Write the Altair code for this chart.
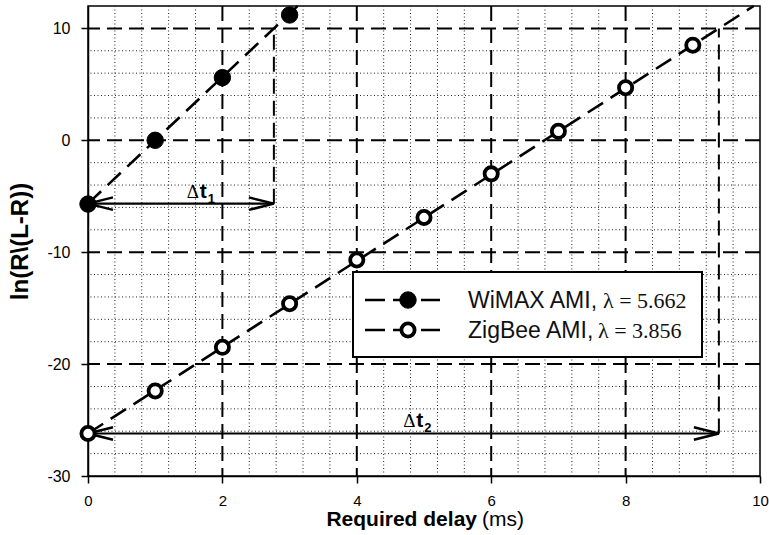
import altair as alt
import pandas as pd

# ln(R/(L-R)) against required delay for the two AMI networks
wimax_delay = [0, 1, 2, 3]
wimax_ln = [-5.7, 0.0, 5.6, 11.2]
zigbee_delay = [0, 1, 2, 3, 4, 5, 6, 7, 8, 9]
zigbee_ln = [-26.2, -22.4, -18.5, -14.6, -10.7, -6.9, -3.0, 0.8, 4.7, 8.5]

# fitted straight lines: slope (lambda) and value at zero delay
series_names = ["WiMAX AMI", "ZigBee AMI"]
slopes = [5.662, 3.856]
intercepts = [-5.662, -26.2]
target_ln = 10          # level reached at the end of each delta-t arrow
delta_subs = ["1", "2"]
delta_label_x = [1.47, 4.69]

x_ticks = [0, 2, 4, 6, 8, 10]
y_ticks = [-30, -20, -10, 0, 10]
x_domain = [0, 10]
y_domain = [-30, 12]
x_major = [2, 4, 6, 8]
y_major = [-20, -10, 0, 10]
x_minor = [round(0.4 * i, 1) for i in range(1, 25) if i % 5 != 0]
y_minor = [v for v in range(-28, 12, 2) if v % 10 != 0]

SANS = "Liberation Sans"
SERIF = "'Liberation Serif', 'DejaVu Serif', serif"
W, H = 672, 470

xs = alt.Scale(domain=x_domain, nice=False, zero=False)
ys = alt.Scale(domain=y_domain, nice=False, zero=False)
x_axis = alt.Axis(values=x_ticks, grid=False, tickSize=7, tickWidth=1.5, tickColor="black",
                  domainColor="black", domainWidth=1.5, labelFont=SANS, labelFontSize=15,
                  labelColor="black", labelPadding=10, labelFlush=False,
                  labelExpr="'' + datum.value")
y_axis = alt.Axis(values=y_ticks, grid=False, tickSize=7, tickWidth=1.5, tickColor="black",
                  domainColor="black", domainWidth=1.5, labelFont=SANS, labelFontSize=16,
                  labelColor="black", labelPadding=11, labelExpr="'' + datum.value",
                  titleFont=SANS, titleFontSize=24, titleFontWeight="bold", titleColor="black",
                  titleX=-61, titleY=H / 2, titleAlign="center", titleBaseline="alphabetic",
                  titleAngle=270)
Y_TITLE = "ln(R\\(L-R))"


def X(field):
    return alt.X(field, type="quantitative", scale=xs, axis=x_axis, title=None)


def Y(field):
    return alt.Y(field, type="quantitative", scale=ys, axis=y_axis, title=Y_TITLE)


# grid
minor_x = alt.Chart(pd.DataFrame({"gx": x_minor})).mark_rule(
    color="#222", strokeWidth=1, strokeDash=[1, 2.5]).encode(x=X("gx"))
minor_y = alt.Chart(pd.DataFrame({"gy": y_minor})).mark_rule(
    color="#222", strokeWidth=1, strokeDash=[1, 2.5]).encode(y=Y("gy"))
major_x = alt.Chart(pd.DataFrame({"gx": x_major})).mark_rule(
    color="black", strokeWidth=2, strokeDash=[15, 7]).encode(x=X("gx"))
major_y = alt.Chart(pd.DataFrame({"gy": y_major})).mark_rule(
    color="black", strokeWidth=2, strokeDash=[15, 7]).encode(y=Y("gy"))

# fitted lines, from zero delay up to the top of the plot
fit_rows = []
for name, lam, b in zip(series_names, slopes, intercepts):
    fit_rows.append({"series": name, "fx": 0.0, "fy": b})
    fit_rows.append({"series": name, "fx": (y_domain[1] - b) / lam, "fy": float(y_domain[1])})
fits = alt.Chart(pd.DataFrame(fit_rows)).mark_line(
    color="black", strokeWidth=2.6, strokeDash=[18, 9]).encode(
    x=X("fx"), y=Y("fy"), detail="series:N")

# delta-t arrows
dts = [(target_ln - b) / lam for lam, b in zip(slopes, intercepts)]
arrow_df = pd.DataFrame({"ax0": [0.0, 0.0], "ax1": dts, "ay": intercepts,
                         "atop": [target_ln, target_ln], "sub": delta_subs,
                         "lx": delta_label_x})
drops = alt.Chart(arrow_df).mark_rule(color="black", strokeWidth=2, strokeDash=[15, 7]).encode(
    x=X("ax1"), y=Y("ay"), y2="atop")
shafts = alt.Chart(arrow_df).mark_rule(color="black", strokeWidth=2.2).encode(
    x=X("ax0"), x2="ax1", y=Y("ay"))
HEAD = "M -1 -0.25 L 0 0 L -1 0.25"
head_left = alt.Chart(arrow_df).mark_point(
    shape=HEAD, filled=False, stroke="black", strokeWidth=2.5, size=2500, angle=180,
    opacity=1, strokeJoin="miter").encode(x=X("ax0"), y=Y("ay"))
head_right = alt.Chart(arrow_df).mark_point(
    shape=HEAD, filled=False, stroke="black", strokeWidth=2.5, size=2500, angle=0,
    opacity=1, strokeJoin="miter").encode(x=X("ax1"), y=Y("ay"))
delta_sym = alt.Chart(arrow_df).mark_text(
    text="\u0394", font=SERIF, fontSize=19, align="left", baseline="alphabetic",
    dy=-6, color="black").encode(x=X("lx"), y=Y("ay"))
delta_t = alt.Chart(arrow_df).mark_text(
    text="t", font=SANS, fontSize=21, fontWeight="bold", align="left", baseline="alphabetic",
    dx=13, dy=-6, color="black").encode(x=X("lx"), y=Y("ay"))
delta_sub = alt.Chart(arrow_df).mark_text(
    font=SANS, fontSize=13, fontWeight="bold", align="left", baseline="alphabetic",
    dx=21, dy=-1, color="black").encode(x=X("lx"), y=Y("ay"), text="sub:N")

# measured points
wimax_pts = alt.Chart(pd.DataFrame({"px": wimax_delay, "py": wimax_ln})).mark_circle(
    fill="black", stroke="black", strokeWidth=1, size=270, opacity=1).encode(
    x=X("px"), y=Y("py"))
zigbee_pts = alt.Chart(pd.DataFrame({"px": zigbee_delay, "py": zigbee_ln})).mark_circle(
    fill="white", stroke="black", strokeWidth=3.8, size=175, opacity=1).encode(
    x=X("px"), y=Y("py"))

# x axis title in two weights
one = pd.DataFrame({"k": [0]})
xt_bold = alt.Chart(one).mark_text(
    text="Required delay", font=SANS, fontSize=21, fontWeight="bold", align="right",
    baseline="alphabetic", color="black").encode(x=alt.value(389), y=alt.value(520))
xt_unit = alt.Chart(one).mark_text(
    text="(ms)", font=SANS, fontSize=21, align="left",
    baseline="alphabetic", color="black").encode(x=alt.value(394), y=alt.value(520))

# legend
legend_box = alt.Chart(one).mark_rect(fill="white", stroke="black", strokeWidth=2).encode(
    x=alt.value(265), x2=alt.value(614), y=alt.value(266), y2=alt.value(351))
legend_layers = [legend_box]
legend_rows = [294, 324]
lambda_x = [515, 510]
for i, (name, lam) in enumerate(zip(series_names, slopes)):
    ry = legend_rows[i]
    legend_layers.append(alt.Chart(one).mark_rule(
        color="black", strokeWidth=2.6, strokeDash=[20, 8]).encode(
        x=alt.value(277), x2=alt.value(352), y=alt.value(ry)))
    if i == 0:
        mk = alt.Chart(one).mark_circle(fill="black", stroke="black", strokeWidth=1,
                                        size=270, opacity=1)
    else:
        mk = alt.Chart(one).mark_circle(fill="white", stroke="black", strokeWidth=3.8,
                                        size=175, opacity=1)
    legend_layers.append(mk.encode(x=alt.value(320), y=alt.value(ry)))
    legend_layers.append(alt.Chart(one).mark_text(
        text=f"{name},", font=SANS, fontSize=23, align="left", baseline="middle",
        color="#111").encode(x=alt.value(380), y=alt.value(ry + 1)))
    legend_layers.append(alt.Chart(one).mark_text(
        text=f"\u03bb = {lam:.3f}", font=SERIF, fontSize=22, align="left", baseline="middle",
        color="#111").encode(x=alt.value(lambda_x[i]), y=alt.value(ry + 1)))

chart = alt.layer(
    minor_x, minor_y, major_x, major_y, drops, shafts, head_left, head_right,
    fits, wimax_pts, zigbee_pts, delta_sym, delta_t, delta_sub,
    xt_bold, xt_unit, *legend_layers
).properties(
    width=W, height=H,
    padding={"left": 88, "top": 6, "right": 9, "bottom": 59},
    autosize=alt.AutoSizeParams(type="none"),
    background="white",
).configure_view(stroke="black", strokeWidth=1.5)

chart.save("out.html", embed_options={"renderer": "svg", "actions": False})
